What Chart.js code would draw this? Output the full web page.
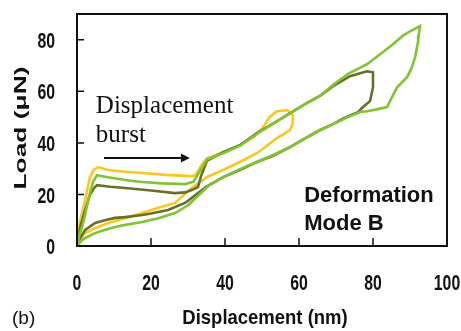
<!DOCTYPE html>
<html>
<head>
<meta charset="utf-8">
<script src="https://cdn.jsdelivr.net/npm/chart.js@4"></script>
<style>
  html, body { margin: 0; padding: 0; background: #fff; }
  #wrap { width: 461px; height: 331px; }
</style>
</head>
<body>
<div id="wrap"><canvas id="loadChart" width="461" height="331"></canvas></div>
<script>
// Load-displacement loops (displacement nm, load uN)
const yellowX = [0, 0.3, 1.2, 2.2, 3.5, 4.5, 5.7, 8.4, 13, 17.6, 24, 31.1, 32, 33.5, 35.1, 39.5, 44, 48, 50.3, 52, 54, 56.8, 58.4, 58.2, 57.6, 56, 54, 51, 48.6, 44, 39.5, 35.1, 31, 26.5, 22, 17.6, 13, 8.4, 5, 2.2, 0.5, 0];
const yellowY = [0, 6, 12, 17.8, 26.7, 29.5, 30.6, 29.5, 28.8, 28.3, 27.6, 27.1, 27.5, 31, 34, 36.4, 39.1, 42.5, 46, 50, 52.3, 52.7, 50.5, 47, 45, 43.5, 41.9, 38.5, 36, 32.6, 29.5, 26.7, 22.5, 16.7, 14.8, 12.8, 10.8, 8.9, 7, 5, 2, 0];

const oliveX = [0, 1, 2.2, 3.5, 4.6, 5.4, 9, 13, 20, 26.5, 29.2, 31, 32.7, 33.5, 35.1, 39.5, 44, 48.6, 53, 57.6, 62.2, 66, 69.2, 71.5, 73.8, 76.5, 78.4, 80, 80, 80, 79.2, 77.3, 75.9, 72, 69.2, 65.7, 62, 57.6, 53, 48.6, 44, 39.5, 35, 32.7, 29.2, 24.6, 20, 17.6, 13, 10.3, 7.5, 4.9, 2.2, 0.8, 0];
const oliveY = [0, 8, 14, 19.8, 22.5, 23.6, 23, 22.5, 21.5, 20.5, 20.8, 21.7, 22.9, 27, 33, 36.4, 39.1, 43.8, 47.5, 51.5, 55.5, 58.5, 62, 64, 65.9, 67, 67.8, 67.4, 64, 61.6, 56.2, 53.9, 51.9, 49.5, 47.3, 45, 42, 38.4, 35, 32.6, 29.5, 26.7, 23, 20.5, 16.7, 14, 12.6, 12, 11.2, 10.9, 10, 8.9, 6.2, 3, 0];

const greenX = [0, 0.6, 1.4, 2.2, 3, 4.3, 5.4, 8.4, 13, 17.6, 23, 29.2, 31.5, 33, 35.1, 39.5, 44, 48.6, 53, 57.6, 62.2, 65.5, 69.2, 73.5, 78.4, 82, 85.4, 88, 90, 92.7, 92.4, 92.2, 91.4, 90.4, 89.2, 86.5, 84.6, 83.8, 81, 78.4, 76.5, 72.5, 69.2, 65.7, 60.3, 57.6, 53, 48.6, 44, 39.5, 35.5, 32.7, 30, 26.5, 22, 17.6, 13, 10.3, 7, 4.9, 2.5, 1.4, 0];
const greenY = [0, 4, 7.4, 12, 17.8, 24.8, 27.5, 26.7, 25.6, 24.8, 24.3, 24, 25, 28.5, 33.5, 36, 38.8, 43.5, 47.5, 51.6, 55.5, 58, 62.5, 67, 70.5, 74.5, 78.3, 81.5, 83.3, 85.3, 82, 79.5, 73.3, 69, 65.5, 61.6, 56.2, 53.9, 53, 52.3, 52, 49.5, 47.3, 45, 40.7, 38.4, 35.3, 32.6, 29.8, 26.7, 23.3, 19.5, 15.8, 12.8, 10.8, 9.3, 8.2, 7.4, 6, 5, 3.3, 2.3, 0];

const xTicks = [0, 20, 40, 60, 80, 100];
const yTicks = [0, 20, 40, 60, 80];

function toPoints(xs, ys) {
    return xs.map((x, i) => ({ x: x, y: ys[i] }));
}

// the source uses tall, condensed lettering; squeeze text horizontally
function squeezedText(ctx, text, x, y, sx, sy, align) {
    ctx.save();
    ctx.translate(x, y);
    ctx.scale(sx, sy);
    ctx.textAlign = align;
    ctx.fillText(text, 0, 0);
    ctx.restore();
}

// Frame, inward ticks, tick labels and the text annotations
const decorations = {
    id: 'decorations',
    afterDraw(chart) {
        const ctx = chart.ctx;
        const area = chart.chartArea;
        const xs = chart.scales.x;
        const ys = chart.scales.y;
        ctx.save();
        ctx.strokeStyle = '#111';
        ctx.fillStyle = '#111';
        ctx.lineWidth = 2;
        ctx.strokeRect(area.left, area.top, area.right - area.left, area.bottom - area.top);

        ctx.lineWidth = 1.5;
        ctx.beginPath();
        xTicks.slice(1, -1).forEach(v => {
            const px = xs.getPixelForValue(v);
            ctx.moveTo(px, area.bottom);
            ctx.lineTo(px, area.bottom - 8);
        });
        yTicks.slice(1).forEach(v => {
            const py = ys.getPixelForValue(v);
            ctx.moveTo(area.left, py);
            ctx.lineTo(area.left + 7, py);
        });
        ctx.stroke();

        // tick labels
        ctx.font = "bold 22px 'Liberation Sans', Arial, sans-serif";
        ctx.textBaseline = 'middle';
        xTicks.forEach(v => {
            squeezedText(ctx, String(v), xs.getPixelForValue(v), area.bottom + 38, 0.72, 1, 'center');
        });
        yTicks.forEach(v => {
            squeezedText(ctx, String(v), area.left - 22, ys.getPixelForValue(v) + 2, 0.72, 1, 'right');
        });

        // x axis title
        ctx.font = "bold 21px 'Liberation Sans', Arial, sans-serif";
        squeezedText(ctx, 'Displacement (nm)', (area.left + area.right) / 2 + 3, 318, 0.88, 1, 'center');

        // annotation
        ctx.font = "25px 'Liberation Serif', 'Times New Roman', serif";
        ctx.textBaseline = 'alphabetic';
        ctx.textAlign = 'left';
        ctx.fillText('Displacement', xs.getPixelForValue(5.1), ys.getPixelForValue(51.6));
        ctx.fillText('burst', xs.getPixelForValue(5.1), ys.getPixelForValue(40.3));

        const ax0 = xs.getPixelForValue(7.3), ax1 = xs.getPixelForValue(30.5), ay = ys.getPixelForValue(34.1);
        ctx.lineWidth = 2;
        ctx.beginPath();
        ctx.moveTo(ax0, ay);
        ctx.lineTo(ax1 - 6, ay);
        ctx.stroke();
        ctx.beginPath();
        ctx.moveTo(ax1, ay);
        ctx.lineTo(ax1 - 9, ay - 4.5);
        ctx.lineTo(ax1 - 9, ay + 4.5);
        ctx.closePath();
        ctx.fill();

        ctx.font = "bold 22px 'Liberation Sans', Arial, sans-serif";
        ctx.fillText('Deformation', xs.getPixelForValue(61.4), ys.getPixelForValue(17.1));
        ctx.fillText('Mode B', xs.getPixelForValue(61.4), ys.getPixelForValue(6.2));

        // panel label
        ctx.font = "19px 'Liberation Sans', Arial, sans-serif";
        ctx.textBaseline = 'middle';
        ctx.fillText('(b)', 12, 319);

        // y axis title, stretched along its length like the source
        ctx.translate(21, (area.top + area.bottom) / 2 - 2);
        ctx.rotate(-Math.PI / 2);
        ctx.scale(1.55, 1);
        ctx.font = "bold 17px 'Liberation Sans', Arial, sans-serif";
        ctx.textAlign = 'center';
        ctx.fillText('Load (\u03bcN)', 0, 0);
        ctx.restore();
    }
};

function lineSet(label, xs, ys, color) {
    return {
        label: label,
        data: toPoints(xs, ys),
        showLine: true,
        borderColor: color,
        borderWidth: 2.6,
        pointRadius: 0,
        tension: 0,
        fill: false
    };
}

new Chart(document.getElementById('loadChart'), {
    type: 'scatter',
    data: {
        datasets: [
            lineSet('Test 3', greenX, greenY, 'rgb(128, 196, 52)'),
            lineSet('Test 2', oliveX, oliveY, 'rgb(104, 112, 40)'),
            lineSet('Test 1', yellowX, yellowY, 'rgb(250, 200, 28)')
        ]
    },
    options: {
        responsive: false,
        animation: false,
        layout: { padding: { top: 14, right: 14, left: 0, bottom: 0 } },
        plugins: {
            legend: { display: false },
            tooltip: { enabled: false }
        },
        scales: {
            x: {
                type: 'linear',
                min: 0,
                max: 100,
                afterBuildTicks: axis => { axis.ticks = xTicks.map(v => ({ value: v })); },
                afterFit: axis => { axis.height = 85; },
                grid: { display: false, drawTicks: false },
                border: { display: false },
                ticks: { display: false }
            },
            y: {
                type: 'linear',
                min: 0,
                max: 90,
                afterBuildTicks: axis => { axis.ticks = yTicks.map(v => ({ value: v })); },
                afterFit: axis => { axis.width = 77; },
                grid: { display: false, drawTicks: false },
                border: { display: false },
                ticks: { display: false }
            }
        }
    },
    plugins: [decorations]
});
</script>
</body>
</html>
